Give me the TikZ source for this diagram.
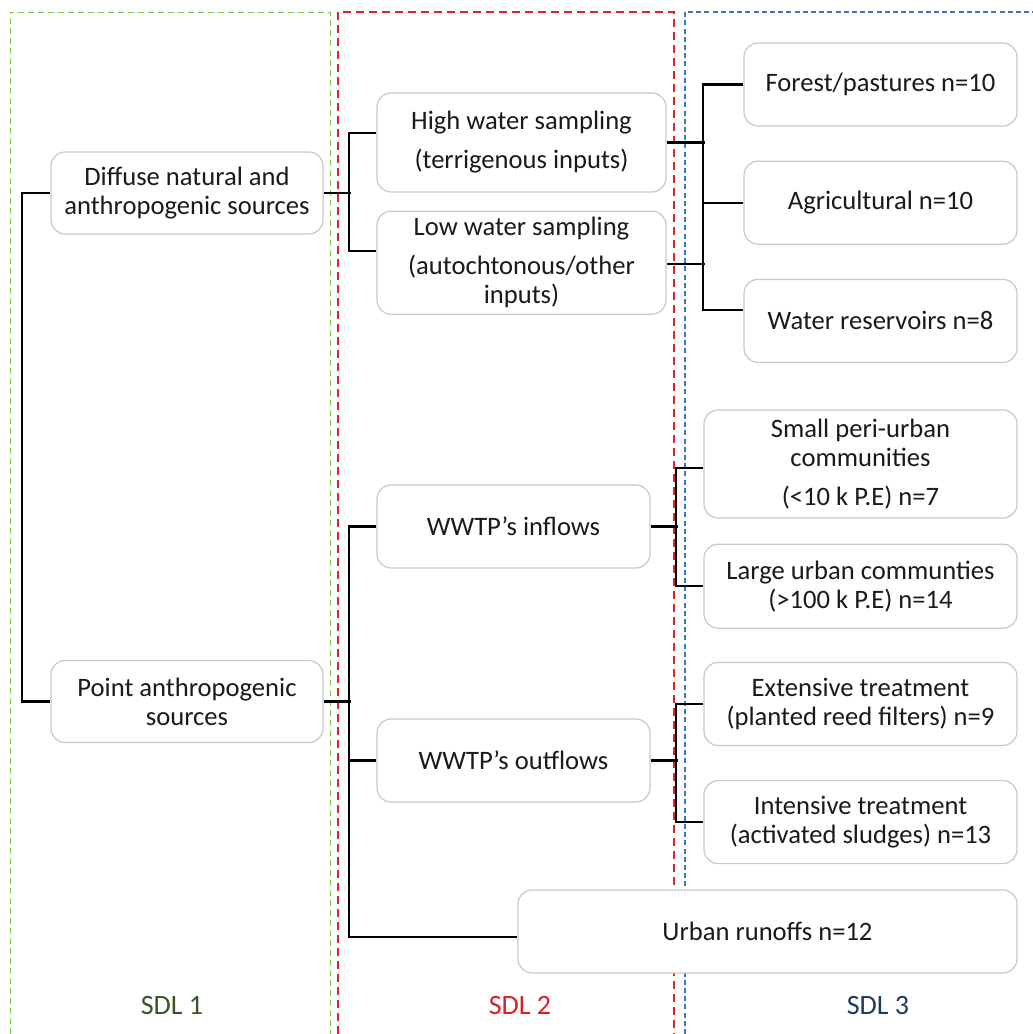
\documentclass[tikz,border=0pt]{standalone}
\usepackage{fontspec}
\setmainfont{Carlito}
\usetikzlibrary{positioning, calc}
\definecolor{boxline}{HTML}{C8C8C8}
\definecolor{sdlone}{HTML}{385723}
\definecolor{sdltwo}{HTML}{D9202A}
\definecolor{sdlthree}{HTML}{203864}
\definecolor{zoneone}{HTML}{7CC84E}
\definecolor{zonetwo}{HTML}{E0202A}
\definecolor{zonethree}{HTML}{4472C4}
\definecolor{ink}{HTML}{1A1A1A}

\begin{document}
\begin{tikzpicture}[
  x=0.5pt, y=-0.5pt,
  every node/.style={font=\fontsize{13.3}{14.5}\selectfont, text=ink},
  box/.style={
    draw=boxline, fill=white, line width=0.6pt, rounded corners=7pt,
    minimum width=136.5pt, minimum height=41.5pt, align=center, inner sep=2pt
  },
  link/.style={black, line width=1.05pt},
  zone/.style={line width=0.6pt, dash pattern=on 3pt off 2pt},
  sdl/.style={font=\fontsize{14}{16}\selectfont}
]
  \useasboundingbox (0,0) rectangle (1033,1034);

  % sampling zones
  \draw[zone, zoneone, line width=0.4pt] (10,1034) -- (10,12) -- (330,12) -- (330,1034);
  \draw[zone, zonetwo, line width=0.8pt, dash pattern=on 4pt off 2.5pt] (338,1034) -- (338,12) -- (674,12) -- (674,1034);
  \draw[zone, zonethree, dash pattern=on 2.5pt off 1.6pt] (685,1034) -- (685,12) -- (1033,12);

  % SDL 1
  \node[box, minimum width=136pt, minimum height=41pt] (diffuse) at (187,193) {Diffuse natural and\\anthropogenic sources};
  \node[box, minimum width=136pt, minimum height=41pt] (point) at (187,701.5) {Point anthropogenic\\sources};

  % SDL 2
  \node[box, minimum width=144.5pt, minimum height=49.5pt] (high) at (521.5,142.5) {High water sampling\\[5pt](terrigenous inputs)};
  \node[box, minimum width=144.5pt, minimum height=51.5pt, below=9pt of high] (low) {Low water sampling\\[5pt](autochtonous/other\\inputs)};
  \node[box] (inflow) at (513.5,526.5) {WWTP’s inflows};
  \node[box] (outflow) at (513.5,760.5) {WWTP’s outflows};

  % SDL 3
  \node[box] (forest) at (880.5,84.5) {Forest/pastures n=10};
  \node[box, below=17pt of forest] (agri) {Agricultural n=10};
  \node[box, below=17pt of agri] (water) {Water reservoirs n=8};
  \node[box, minimum width=156.5pt, minimum height=54pt] (small) at (860.5,464) {Small peri-urban\\communities\\[5pt](<10 k P.E) n=7};
  \node[box, minimum width=156.5pt, minimum height=42pt, below=12.5pt of small] (large) {Large urban communties\\(>100 k P.E) n=14};
  \node[box, minimum width=156.5pt, below=16.5pt of large] (extensive) {Extensive treatment\\(planted reed filters) n=9};
  \node[box, minimum width=156.5pt, below=17pt of extensive] (intensive) {Intensive treatment\\(activated sludges) n=13};
  \node[box, minimum width=249.5pt] (runoff) at (767.5,931.5) {Urban runoffs n=12};

  % tree links
  \draw[link] (diffuse.west) -- ++(-28,0) |- (point.west);
  \draw[link] (diffuse.east) -- ++(27,0);
  \draw[link] (high.west |- 0,133) -- ++(-27,0) |- (low.west |- 0,251);
  \draw[link] (point.east) -- ++(27,0);
  \draw[link] (inflow.west) -- ++(-27,0) |- (runoff.west |- 0,937);
  \draw[link] (outflow.west) -- ++(-27,0);

  \draw[link] (high.east) -- ++(38,0);
  \draw[link] (low.east |- 0,264) -- ++(38,0);
  \draw[link] (forest.west) -- ++(-40,0) |- (water.west |- 0,310);
  \draw[link] (agri.west) -- ++(-40,0);

  \draw[link] (inflow.east) -- ++(27,0);
  \draw[link] (small.west |- 0,468) -- ++(-27,0) |- (large.west);
  \draw[link] (outflow.east) -- ++(27,0);
  \draw[link] (extensive.west) -- ++(-27,0) |- (intensive.west);

  % zone labels
  \node[sdl, text=sdlone] (lab1) at (172,1005) {SDL 1};
  \node[sdl, text=sdltwo] (lab2) at (520,1005) {SDL 2};
  \node[sdl, text=sdlthree] (lab3) at (878,1005) {SDL 3};
\end{tikzpicture}
\end{document}
